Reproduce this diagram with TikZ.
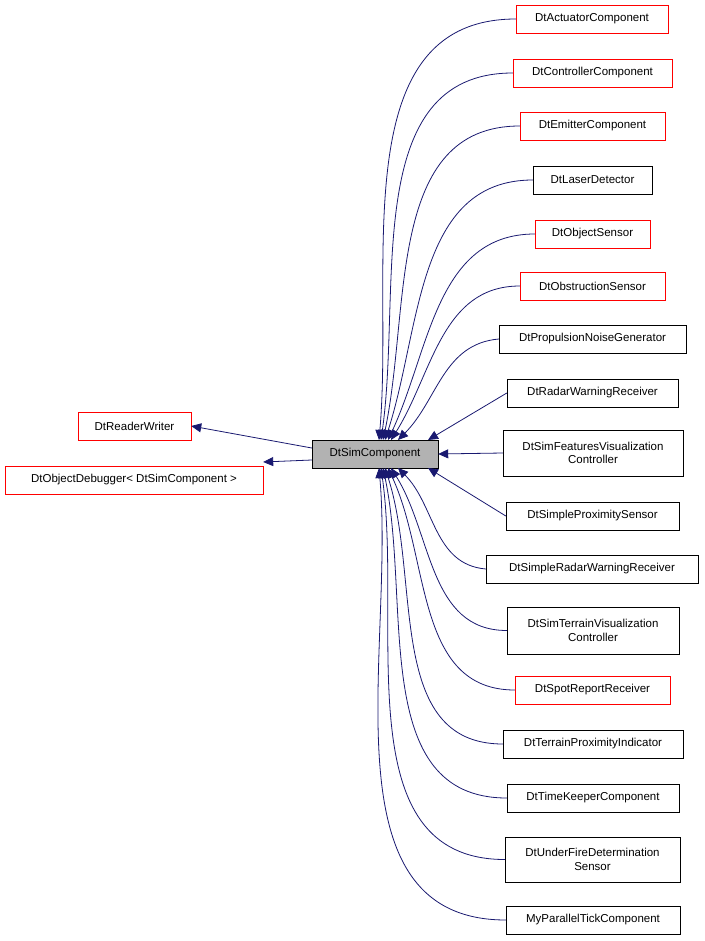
\documentclass[tikz,border=0pt]{standalone}
\usepackage{fontspec}
\setmainfont{Liberation Sans}
\usetikzlibrary{arrows.meta}
\definecolor{navy}{HTML}{191970}
\tikzset{
 box/.style={draw=black,fill=white,font=\fontsize{11.5}{13.5}\selectfont,inner sep=0pt,align=center,minimum height=28pt},
 rbox/.style={box,draw=red},
 edge/.style={draw=navy,line width=0.8pt,-{Triangle[length=10pt,width=9pt]}}
}
\begin{document}
\begin{tikzpicture}[x=1pt,y=-1pt]
\useasboundingbox (0,0) rectangle (704,941);
\node[box,fill=gray!60,minimum width=126pt] (sim) at (375,454) {DtSimComponent};
\node[rbox,minimum width=113pt] (rw) at (134.5,426) {DtReaderWriter};
\node[rbox,minimum width=258pt] (od) at (134,480) {DtObjectDebugger< DtSimComponent >};
\node[rbox,minimum width=152pt] (a1) at (592,19) {DtActuatorComponent};
\node[rbox,minimum width=159pt] (a2) at (592.5,73) {DtControllerComponent};
\node[rbox,minimum width=145pt] (a3) at (592.5,126) {DtEmitterComponent};
\node[box,minimum width=119pt] (a4) at (592.5,180) {DtLaserDetector};
\node[rbox,minimum width=115pt] (a5) at (592.5,234) {DtObjectSensor};
\node[rbox,minimum width=145pt] (a6) at (592.5,286) {DtObstructionSensor};
\node[box,minimum width=187pt] (a7) at (592.5,339) {DtPropulsionNoiseGenerator};
\node[box,minimum width=171pt] (a8) at (592.5,393) {DtRadarWarningReceiver};
\node[box,minimum width=180pt,minimum height=46pt] (a9) at (593,453) {DtSimFeaturesVisualization\\Controller};
\node[box,minimum width=173pt] (a10) at (592.5,516) {DtSimpleProximitySensor};
\node[box,minimum width=212pt] (a11) at (592,569) {DtSimpleRadarWarningReceiver};
\node[box,minimum width=172pt,minimum height=47pt] (a12) at (593,630.5) {DtSimTerrainVisualization\\Controller};
\node[rbox,minimum width=155pt] (a13) at (592.5,690) {DtSpotReportReceiver};
\node[box,minimum width=180pt] (a14) at (593,744) {DtTerrainProximityIndicator};
\node[box,minimum width=172pt] (a15) at (593,798) {DtTimeKeeperComponent};
\node[box,minimum width=175pt,minimum height=45pt] (a16) at (592.5,859.5) {DtUnderFireDetermination\\Sensor};
\node[box,minimum width=174pt] (a17) at (593,920) {MyParallelTickComponent};
\coordinate (t1) at (379,440); \coordinate (t2) at (381,440); \coordinate (t3) at (383,440);
\coordinate (t4) at (385,440); \coordinate (t5) at (388,440); \coordinate (t6) at (391,440);
\coordinate (t7) at (398,440); \coordinate (t8) at (428,440);
\coordinate (b10) at (428,468); \coordinate (b11) at (398,468); \coordinate (b12) at (391,468);
\coordinate (b13) at (388,468); \coordinate (b14) at (385,468); \coordinate (b15) at (383,468);
\coordinate (b16) at (381,468); \coordinate (b17) at (379,468);
\draw[edge] (sim.west |- 0,448) -- (rw.east);
\draw[edge] (sim.west |- 0,460) -- (od.east |- 0,462);
\draw[edge] (a1.west) to[out=180,in=85] (t1);
\draw[edge] (a2.west) to[out=180,in=82] (t2);
\draw[edge] (a3.west) to[out=180,in=78] (t3);
\draw[edge] (a4.west) to[out=180,in=72] (t4);
\draw[edge] (a5.west) to[out=180,in=65] (t5);
\draw[edge] (a6.west) to[out=180,in=58] (t6);
\draw[edge] (a7.west) to[out=185,in=45] (t7);
\draw[edge] (a8.west) -- (t8);
\draw[edge] (a9.west) -- (sim.east);
\draw[edge] (a10.west) -- (b10);
\draw[edge] (a11.west) to[out=175,in=-45] (b11);
\draw[edge] (a12.west) to[out=180,in=-58] (b12);
\draw[edge] (a13.west) to[out=180,in=-65] (b13);
\draw[edge] (a14.west) to[out=180,in=-72] (b14);
\draw[edge] (a15.west) to[out=180,in=-78] (b15);
\draw[edge] (a16.west) to[out=180,in=-82] (b16);
\draw[edge] (a17.west) to[out=180,in=-85] (b17);
\end{tikzpicture}
\end{document}
